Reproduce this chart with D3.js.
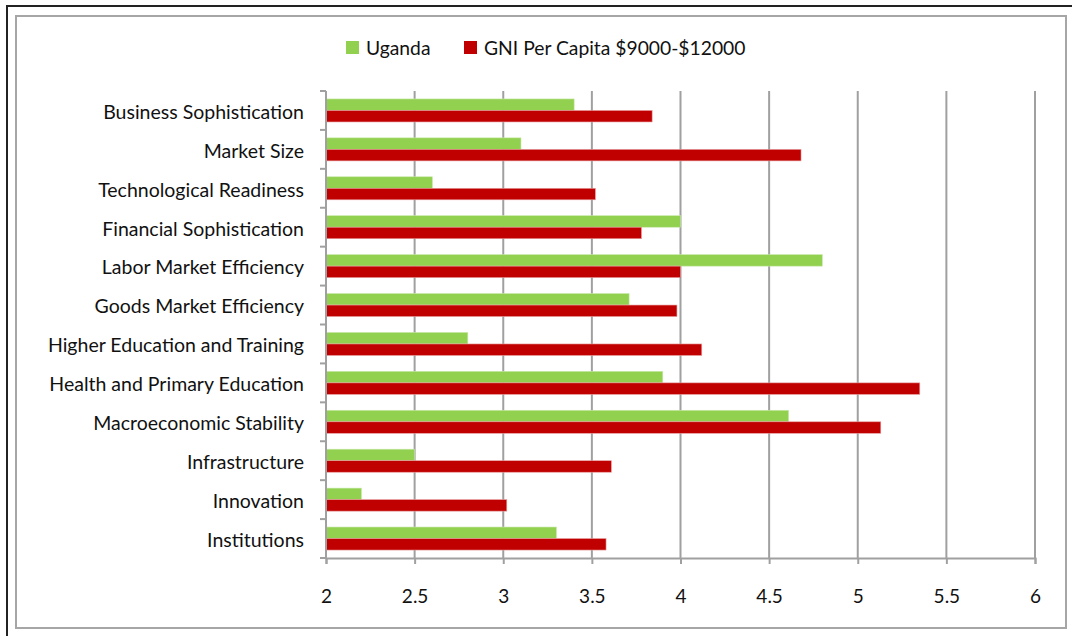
<!DOCTYPE html>
<html>
<head>
<meta charset="utf-8">
<script src="https://cdn.jsdelivr.net/npm/d3@7"></script>
<style>
  body { margin: 0; background: #fff; }
  svg { display: block; font-family: Lato, "Open Sans", sans-serif; }
</style>
</head>
<body>
<svg id="chart" width="1072" height="636"></svg>
<script>
// categorías (de arriba a abajo)
const categories = [
  "Business Sophistication", "Market Size", "Technological Readiness",
  "Financial Sophistication", "Labor Market Efficiency", "Goods Market Efficiency",
  "Higher Education and Training", "Health and Primary Education",
  "Macroeconomic Stability", "Infrastructure", "Innovation", "Institutions"
]
const series = ["Uganda", "GNI Per Capita $9000-$12000"]
const uganda = [3.40, 3.10, 2.60, 4.00, 4.80, 3.71, 2.80, 3.90, 4.61, 2.50, 2.20, 3.30]
const gni    = [3.84, 4.68, 3.52, 3.78, 4.00, 3.98, 4.12, 5.35, 5.13, 3.61, 3.02, 3.58]
const xTicks = [2, 2.5, 3, 3.5, 4, 4.5, 5, 5.5, 6]
const colors = ["#92D050", "#C00000"]

const svg = d3.select("#chart")

/* marcos */
svg.append("rect").attr("x", 7).attr("y", 6).attr("width", 1080).attr("height", 640)
  .attr("fill", "none").attr("stroke", "#222").attr("stroke-width", 2)
svg.append("rect").attr("x", 16).attr("y", 16).attr("width", 1050).attr("height", 612)
  .attr("fill", "#fff").attr("stroke", "#a6a6a6").attr("stroke-width", 2)

/* escalas */
const x = d3.scaleLinear().domain([2, 6]).range([326, 1035])
const y = d3.scaleBand().domain(categories).range([91, 558])
const ySub = d3.scaleBand().domain(series).range([0, y.bandwidth()]).paddingOuter(0.69)

/* rejilla vertical */
svg.append("g").selectAll("line")
  .data(xTicks.slice(1))
  .join("line")
  .attr("x1", d => x(d)).attr("x2", d => x(d))
  .attr("y1", 91).attr("y2", 558)
  .attr("stroke", "#a0a0a0").attr("stroke-width", 2)

/* barras */
const rows = categories.map((c, i) => ({ cat: c, vals: [uganda[i], gni[i]] }))
svg.append("g").selectAll("g")
  .data(rows)
  .join("g")
  .attr("transform", d => `translate(0,${y(d.cat)})`)
  .selectAll("rect")
  .data(d => d.vals.map((v, j) => ({ s: series[j], v, j })))
  .join("rect")
  .attr("x", x(2))
  .attr("y", d => ySub(d.s))
  .attr("width", d => x(d.v) - x(2))
  .attr("height", ySub.bandwidth())
  .attr("fill", d => colors[d.j])
  .attr("stroke", d => d.j ? "#e8a0a0" : "#c8e8a8")
  .attr("stroke-width", 0.6)

/* eje X */
const xAxis = svg.append("g")
  .attr("transform", "translate(0,558)")
  .call(d3.axisBottom(x).tickValues(xTicks).tickFormat(d3.format("~g")).tickSize(6).tickPadding(26))
xAxis.select(".domain").attr("stroke", "#a0a0a0").attr("stroke-width", 2)
xAxis.selectAll(".tick line").attr("stroke", "#a0a0a0").attr("stroke-width", 2)
xAxis.selectAll("text").attr("font-size", 19).attr("fill", "#111")
  .attr("font-family", "Lato, sans-serif")

/* eje Y */
svg.append("line").attr("x1", x(2)).attr("x2", x(2)).attr("y1", 91).attr("y2", 558)
  .attr("stroke", "#a0a0a0").attr("stroke-width", 2)
const bounds = categories.map(c => y(c)).concat([y.range()[1]])
svg.append("g").selectAll("line")
  .data(bounds)
  .join("line")
  .attr("x1", x(2) - 6).attr("x2", x(2))
  .attr("y1", d => d).attr("y2", d => d)
  .attr("stroke", "#a0a0a0").attr("stroke-width", 2)

svg.append("g").selectAll("text")
  .data(categories)
  .join("text")
  .attr("x", 304)
  .attr("y", d => y(d) + y.bandwidth() / 2 + 1.5)
  .attr("dy", "0.35em")
  .attr("text-anchor", "end")
  .attr("font-size", 19.5)
  .attr("fill", "#111")
  .text(d => d)

/* leyenda */
const legendX = [346, 464]
const legend = svg.append("g").selectAll("g")
  .data(series)
  .join("g")
  .attr("transform", (d, i) => `translate(${legendX[i]},41)`)
legend.append("rect").attr("width", 13).attr("height", 13).attr("fill", (d, i) => colors[i])
legend.append("text").attr("x", 20).attr("y", 7.5).attr("dy", "0.35em")
  .attr("font-size", 19.3).attr("fill", "#111").text(d => d)
</script>
</body>
</html>
